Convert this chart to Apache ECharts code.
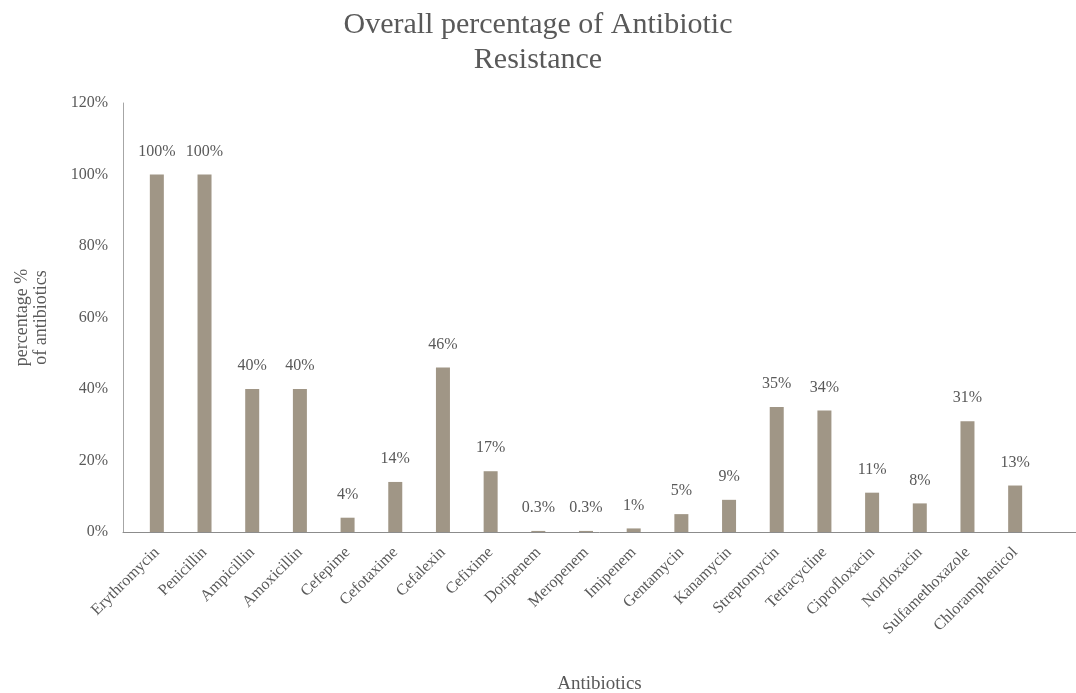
<!DOCTYPE html>
<html>
<head>
<meta charset="utf-8">
<script src="https://cdn.jsdelivr.net/npm/echarts@6/dist/echarts.min.js"></script>
<style>
  html, body { margin: 0; padding: 0; background: #ffffff; }
  #chart { width: 1076px; height: 693px; }
</style>
</head>
<body>
<div id="chart"></div>
<script>
// Resistance rates per antibiotic (percent)
const categories = [
  'Erythromycin', 'Penicillin', 'Ampicillin', 'Amoxicillin', 'Cefepime',
  'Cefotaxime', 'Cefalexin', 'Cefixime', 'Doripenem', 'Meropenem',
  'Imipenem', 'Gentamycin', 'Kanamycin', 'Streptomycin', 'Tetracycline',
  'Ciprofloxacin', 'Norfloxacin', 'Sulfamethoxazole', 'Chloramphenicol'
];
const resistance = [100, 100, 40, 40, 4, 14, 46, 17, 0.3, 0.3, 1, 5, 9, 35, 34, 11, 8, 31, 13];
const yTicks = { min: 0, max: 120, interval: 20 };

const serif = '"Liberation Serif", "Times New Roman", serif';
const textGray = '#595959';

const chart = echarts.init(document.getElementById('chart'), null, { renderer: 'canvas' });

chart.setOption({
  backgroundColor: '#ffffff',
  animation: false,
  title: {
    text: 'Overall percentage of Antibiotic\nResistance',
    left: 'center',
    top: 3,
    textStyle: {
      fontFamily: serif,
      fontWeight: 'normal',
      fontSize: 30,
      lineHeight: 35,
      color: textGray
    }
  },
  grid: [
    // plotting area for the bars
    { left: 133, right: 37, top: 103, bottom: 161, containLabel: false, outerBoundsMode: 'none' },
    // frame that carries the visible axis lines
    { left: 123, right: 0, top: 103, bottom: 161, containLabel: false, outerBoundsMode: 'none' }
  ],
  xAxis: [
    {
      type: 'category',
      gridIndex: 0,
      data: categories,
      axisLine: { show: false },
      axisTick: { show: false },
      axisLabel: {
        interval: 0,
        rotate: 45,
        margin: 18,
        fontFamily: serif,
        fontSize: 16,
        color: textGray
      }
    },
    {
      type: 'value',
      gridIndex: 1,
      min: 0,
      max: 1,
      name: 'Antibiotics',
      nameLocation: 'middle',
      nameGap: 143,
      nameTextStyle: { fontFamily: serif, fontSize: 19, color: textGray },
      axisLine: { show: true, lineStyle: { color: '#8c8c8c', width: 1 } },
      axisTick: { show: false },
      axisLabel: { show: false },
      splitLine: { show: false }
    }
  ],
  yAxis: [
    {
      type: 'value',
      gridIndex: 0,
      min: yTicks.min,
      max: yTicks.max,
      interval: yTicks.interval,
      show: false
    },
    {
      type: 'value',
      gridIndex: 1,
      min: yTicks.min,
      max: yTicks.max,
      interval: yTicks.interval,
      name: 'percentage %\nof antibiotics',
      nameLocation: 'middle',
      nameGap: 72,
      nameRotate: 90,
      nameTextStyle: { fontFamily: serif, fontSize: 18, lineHeight: 19, color: textGray },
      axisLine: { show: true, lineStyle: { color: '#a6a6a6', width: 1 } },
      axisTick: { show: false },
      axisLabel: {
        formatter: '{value}%',
        margin: 15,
        fontFamily: serif,
        fontSize: 16,
        color: textGray
      },
      splitLine: { show: false }
    }
  ],
  series: [
    {
      type: 'bar',
      xAxisIndex: 0,
      yAxisIndex: 0,
      data: resistance,
      barWidth: 14,
      itemStyle: { color: '#a09686' },
      label: {
        show: true,
        position: 'top',
        distance: 15,
        formatter: '{c}%',
        fontFamily: serif,
        fontSize: 16,
        color: textGray
      }
    }
  ]
});
</script>
</body>
</html>
